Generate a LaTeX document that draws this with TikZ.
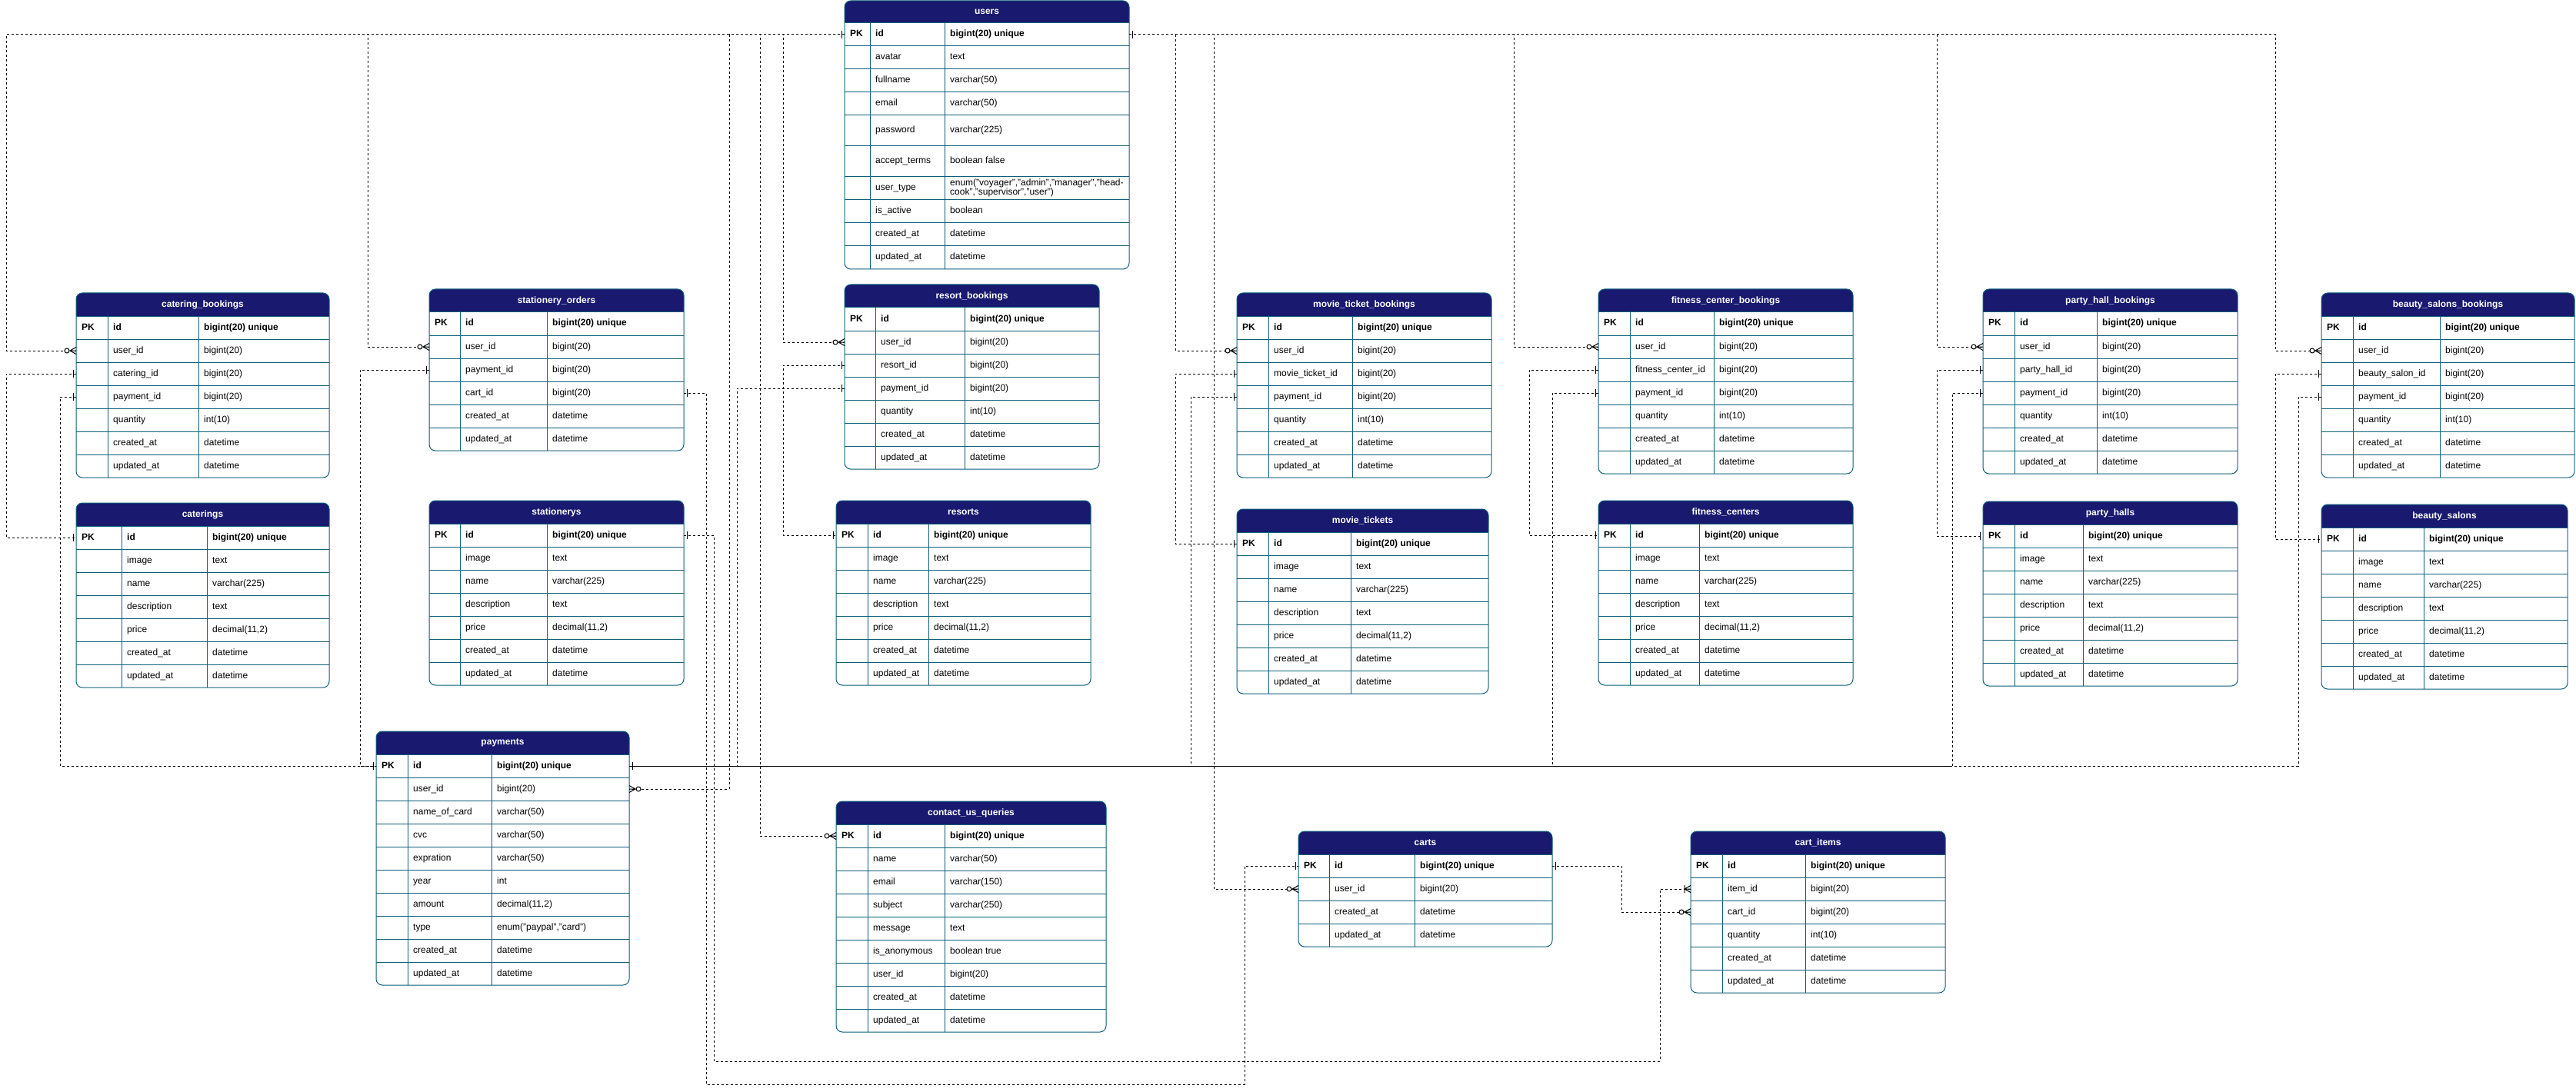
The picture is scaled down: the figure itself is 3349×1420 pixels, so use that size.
\documentclass[tikz,border=0pt]{standalone}
\usepackage{fontspec}
\setmainfont{Liberation Sans}
\usetikzlibrary{calc}
\definecolor{hdr}{HTML}{191970}
\definecolor{tgrid}{HTML}{0E6079}
\tikzset{
  gridl/.style={draw=tgrid, line width=1pt},
  rowbox/.style={draw=none, inner sep=0pt, outer sep=0pt, minimum height=30pt},
  cell/.style={anchor=west, inner sep=0pt, text height=8.6pt, text depth=2.6pt, font=\fontsize{12}{14}\selectfont, text=black},
  cellb/.style={cell, font=\fontsize{12}{14}\selectfont\bfseries},
  ttl/.style={inner sep=0pt, font=\fontsize{12}{14}\selectfont\bfseries, text=white},
  conn/.style={draw=black, line width=1pt, dash pattern=on 3pt off 3pt},
  mk/.style={draw=black, line width=1pt, solid},
}
% #1 id, #2 title, #3 x left, #4 y top, #5 first column split, #6 second split, #7 x right, #8 rows, #9 row list
\newcommand{\ertable}[9]{%
  \pgfmathsetmacro{\ybot}{#4+30+30*#8}
  \fill[hdr, rounded corners=8pt] (#3,#4) rectangle (#7,#4+30);
  \fill[hdr] (#3,#4+15) rectangle (#7,#4+30);
  \node[ttl] (#1) at ({(#3+#7)/2},#4+15) {#2};
  \foreach \fn/\ty [count=\ri] in {#9} {
    \pgfmathsetmacro{\yt}{#4+30*\ri}
    \node[rowbox, minimum width={(#7-#3)*1pt}, anchor=north west] (#1-\fn) at (#3,\yt) {};
    \draw[gridl] (#3,\yt) -- (#7,\yt);
    \ifnum\ri=1
      \node[cellb] at (#3+7,\yt+15) {PK};
      \node[cellb] at (#5+7,\yt+15) {\fn};
      \node[cellb] at (#6+7,\yt+15) {\ty};
    \else
      \node[cell] at (#5+7,\yt+15) {\fn};
      \node[cell] at (#6+7,\yt+15) {\ty};
    \fi
  }
  \draw[gridl] (#5,#4+30) -- (#5,\ybot) (#6,#4+30) -- (#6,\ybot);
  \draw[gridl, rounded corners=8pt] (#3,#4) rectangle (#7,\ybot);
}
\newcommand{\mone}[2]{\draw[mk] ($(#1)+(#2*4,-5)$) -- ($(#1)+(#2*4,5)$);}
\newcommand{\mzm}[2]{\draw[mk] ($(#1)+(0,-4.5)$) -- ($(#1)+(#2*8,0)$) -- ($(#1)+(0,4.5)$) ($(#1)+(#2*8,0)$) -- (#1);
  \draw[mk, fill=white] ($(#1)+(#2*12,0)$) circle (3pt);}
\newcommand{\mom}[2]{\draw[mk] ($(#1)+(0,-4.5)$) -- ($(#1)+(#2*8,0)$) -- ($(#1)+(0,4.5)$) ($(#1)+(#2*8,0)$) -- (#1) ($(#1)+(#2*8,-5)$) -- ($(#1)+(#2*8,5)$);}
\begin{document}
\catcode`\_=12
\begin{tikzpicture}[x=1pt,y=-1pt]
\fill[white] (0,0) rectangle (3349,1420);
\useasboundingbox (0,0) rectangle (3349,1420);

% ---------- users ----------
\fill[hdr, rounded corners=8pt] (1098,1) rectangle (1468,30);
\fill[hdr] (1098,15) rectangle (1468,30);
\node[ttl] (users) at (1283,15) {users};
\foreach \fn/\ty/\ya/\yc [count=\ri] in {id/{bigint(20) unique}/30/60,avatar/text/60/90,fullname/varchar(50)/90/120,email/varchar(50)/120/150,password/varchar(225)/150/190,accept_terms/boolean false/190/230,user_type/{\smash{\begin{tabular}[c]{@{}l@{}}enum("voyager","admin","manager","head-\\[-2pt]cook","supervisor","user")\end{tabular}}}/230/260,is_active/boolean/260/290,created_at/datetime/290/320,updated_at/datetime/320/350} {
  \pgfmathsetmacro{\hh}{\yc-\ya}
  \pgfmathsetmacro{\ym}{(\ya+\yc)/2}
  \node[rowbox, minimum width=370pt, minimum height=\hh pt, anchor=north west] (users-\fn) at (1098,\ya) {};
  \draw[gridl] (1098,\ya) -- (1468,\ya);
  \ifnum\ri=1
    \node[cellb] at (1105,\ym) {PK};
    \node[cellb] at (1138,\ym) {\fn};
    \node[cellb] at (1235,\ym) {\ty};
  \else
    \node[cell] at (1138,\ym) {\fn};
    \node[cell] at (1235,\ym) {\ty};
  \fi
}
\draw[gridl] (1131,30) -- (1131,350) (1228,30) -- (1228,350);
\draw[gridl, rounded corners=8pt] (1098,1) rectangle (1468,350);

% ---------- other tables ----------
\ertable{cb}{catering_bookings}{99}{381}{140}{258}{428}{7}{id/{bigint(20) unique},user_id/bigint(20),catering_id/bigint(20),payment_id/bigint(20),quantity/int(10),created_at/datetime,updated_at/datetime}
\ertable{cat}{caterings}{99}{654}{158}{269}{428}{7}{id/{bigint(20) unique},image/text,name/varchar(225),description/text,price/{decimal(11,2)},created_at/datetime,updated_at/datetime}
\ertable{so}{stationery_orders}{558}{376}{598}{711}{889}{6}{id/{bigint(20) unique},user_id/bigint(20),payment_id/bigint(20),cart_id/bigint(20),created_at/datetime,updated_at/datetime}
\ertable{st}{stationerys}{558}{651}{598}{711}{889}{7}{id/{bigint(20) unique},image/text,name/varchar(225),description/text,price/{decimal(11,2)},created_at/datetime,updated_at/datetime}
\ertable{rb}{resort_bookings}{1098}{370}{1138}{1254}{1429}{7}{id/{bigint(20) unique},user_id/bigint(20),resort_id/bigint(20),payment_id/bigint(20),quantity/int(10),created_at/datetime,updated_at/datetime}
\ertable{rs}{resorts}{1087}{651}{1128}{1207}{1418}{7}{id/{bigint(20) unique},image/text,name/varchar(225),description/text,price/{decimal(11,2)},created_at/datetime,updated_at/datetime}
\ertable{mb}{movie_ticket_bookings}{1608}{381}{1649}{1758}{1939}{7}{id/{bigint(20) unique},user_id/bigint(20),movie_ticket_id/bigint(20),payment_id/bigint(20),quantity/int(10),created_at/datetime,updated_at/datetime}
\ertable{mt}{movie_tickets}{1608}{662}{1649}{1756}{1935}{7}{id/{bigint(20) unique},image/text,name/varchar(225),description/text,price/{decimal(11,2)},created_at/datetime,updated_at/datetime}
\ertable{fb}{fitness_center_bookings}{2078}{376}{2119}{2228}{2409}{7}{id/{bigint(20) unique},user_id/bigint(20),fitness_center_id/bigint(20),payment_id/bigint(20),quantity/int(10),created_at/datetime,updated_at/datetime}
\ertable{fc}{fitness_centers}{2078}{651}{2119}{2209}{2409}{7}{id/{bigint(20) unique},image/text,name/varchar(225),description/text,price/{decimal(11,2)},created_at/datetime,updated_at/datetime}
\ertable{pb}{party_hall_bookings}{2578}{376}{2619}{2726}{2909}{7}{id/{bigint(20) unique},user_id/bigint(20),party_hall_id/bigint(20),payment_id/bigint(20),quantity/int(10),created_at/datetime,updated_at/datetime}
\ertable{ph}{party_halls}{2578}{652}{2619}{2708}{2909}{7}{id/{bigint(20) unique},image/text,name/varchar(225),description/text,price/{decimal(11,2)},created_at/datetime,updated_at/datetime}
\ertable{bb}{beauty_salons_bookings}{3018}{381}{3059}{3172}{3347}{7}{id/{bigint(20) unique},user_id/bigint(20),beauty_salon_id/bigint(20),payment_id/bigint(20),quantity/int(10),created_at/datetime,updated_at/datetime}
\ertable{bs}{beauty_salons}{3018}{656}{3059}{3151}{3338}{7}{id/{bigint(20) unique},image/text,name/varchar(225),description/text,price/{decimal(11,2)},created_at/datetime,updated_at/datetime}
\ertable{pay}{payments}{489}{951}{530}{639}{818}{10}{id/{bigint(20) unique},user_id/bigint(20),name_of_card/varchar(50),cvc/varchar(50),expration/varchar(50),year/int,amount/{decimal(11,2)},type/{enum("paypal","card")},created_at/datetime,updated_at/datetime}
\ertable{cq}{contact_us_queries}{1087}{1042}{1128}{1228}{1438}{9}{id/{bigint(20) unique},name/varchar(50),email/varchar(150),subject/varchar(250),message/text,is_anonymous/boolean true,user_id/bigint(20),created_at/datetime,updated_at/datetime}
\ertable{carts}{carts}{1688}{1081}{1728}{1839}{2018}{4}{id/{bigint(20) unique},user_id/bigint(20),created_at/datetime,updated_at/datetime}
\ertable{ci}{cart_items}{2198}{1081}{2239}{2347}{2529}{6}{id/{bigint(20) unique},item_id/bigint(20),cart_id/bigint(20),quantity/int(10),created_at/datetime,updated_at/datetime}

% ---------- connectors ----------
\draw[conn] (users-id.west) -- (users-id.west -| 8,0) |- (cb-user_id.west);
\draw[conn] (cb-catering_id.west) -- (cb-catering_id.west -| 8,0) |- (cat-id.west);
\draw[conn] (cb-payment_id.west) -- (cb-payment_id.west -| 78,0) |- (pay-id.west);
\draw[conn] (users-id.west) -- (users-id.west -| 478,0) |- (so-user_id.west);
\draw[conn] (so-payment_id.west) -- (so-payment_id.west -| 468,0) |- (pay-id.west);
\draw[conn] (so-cart_id.east) -- (so-cart_id.east -| 918,0) -- (918,1410) -- (1618,1410) |- (carts-id.west);
\draw[conn] (st-id.east) -- (st-id.east -| 928,0) -- (928,1380) -- (2158,1380) |- (ci-item_id.west);
\draw[conn] (users-id.west) -- (users-id.west -| 948,0) |- (pay-user_id.east);
\draw[conn] (rb-payment_id.west) -- (rb-payment_id.west -| 958,0) |- (pay-id.east);
\draw[conn] (users-id.west) -- (users-id.west -| 988,0) |- (cq-id.west);
\draw[conn] (users-id.west) -- (users-id.west -| 1018,0) |- (rb-user_id.west);
\draw[conn] (rb-resort_id.west) -- (rb-resort_id.west -| 1018,0) |- (rs-id.west);

\draw[conn] (users-id.east) -- (users-id.east -| 1528,0) |- (mb-user_id.west);
\draw[conn] (mb-movie_ticket_id.west) -- (mb-movie_ticket_id.west -| 1528,0) |- (mt-id.west);
\draw[conn] (mb-payment_id.west) -- (mb-payment_id.west -| 1548,0) |- (pay-id.east);
\draw[conn] (users-id.east) -- (users-id.east -| 1578,0) |- (carts-user_id.west);
\draw[conn] (users-id.east) -- (users-id.east -| 1968,0) |- (fb-user_id.west);
\draw[conn] (fb-fitness_center_id.west) -- (fb-fitness_center_id.west -| 1988,0) |- (fc-id.west);
\draw[conn] (fb-payment_id.west) -- (fb-payment_id.west -| 2018,0) |- (pay-id.east);
\draw[conn] (carts-id.east) -- (carts-id.east -| 2108,0) |- (ci-cart_id.west);
\draw[conn] (users-id.east) -- (users-id.east -| 2518,0) |- (pb-user_id.west);
\draw[conn] (pb-party_hall_id.west) -- (pb-party_hall_id.west -| 2518,0) |- (ph-id.west);
\draw[conn] (pb-payment_id.west) -- (pb-payment_id.west -| 2538,0) |- (pay-id.east);
\draw[conn] (users-id.east) -- (users-id.east -| 2958,0) |- (bb-user_id.west);
\draw[conn] (bb-beauty_salon_id.west) -- (bb-beauty_salon_id.west -| 2958,0) |- (bs-id.west);
\draw[conn] (bb-payment_id.west) -- (bb-payment_id.west -| 2988,0) |- (pay-id.east);

% ---------- markers ----------
\mone{users-id.west}{-1} \mone{users-id.east}{1}
\mzm{cb-user_id.west}{-1} \mone{cb-catering_id.west}{-1} \mone{cb-payment_id.west}{-1} \mone{cat-id.west}{-1}
\mzm{so-user_id.west}{-1} \mone{so-payment_id.west}{-1} \mone{so-cart_id.east}{1} \mone{st-id.east}{1}
\mone{pay-id.west}{-1} \mone{pay-id.east}{1} \mzm{pay-user_id.east}{1}
\mzm{rb-user_id.west}{-1} \mone{rb-resort_id.west}{-1} \mone{rb-payment_id.west}{-1} \mone{rs-id.west}{-1}
\mzm{cq-id.west}{-1}
\mzm{mb-user_id.west}{-1} \mone{mb-movie_ticket_id.west}{-1} \mone{mb-payment_id.west}{-1} \mone{mt-id.west}{-1}
\mone{carts-id.west}{-1} \mzm{carts-user_id.west}{-1} \mone{carts-id.east}{1}
\mom{ci-item_id.west}{-1} \mzm{ci-cart_id.west}{-1}
\mzm{fb-user_id.west}{-1} \mone{fb-fitness_center_id.west}{-1} \mone{fb-payment_id.west}{-1} \mone{fc-id.west}{-1}
\mzm{pb-user_id.west}{-1} \mone{pb-party_hall_id.west}{-1} \mone{pb-payment_id.west}{-1} \mone{ph-id.west}{-1}
\mzm{bb-user_id.west}{-1} \mone{bb-beauty_salon_id.west}{-1} \mone{bb-payment_id.west}{-1} \mone{bs-id.west}{-1}
\end{tikzpicture}
\end{document}
